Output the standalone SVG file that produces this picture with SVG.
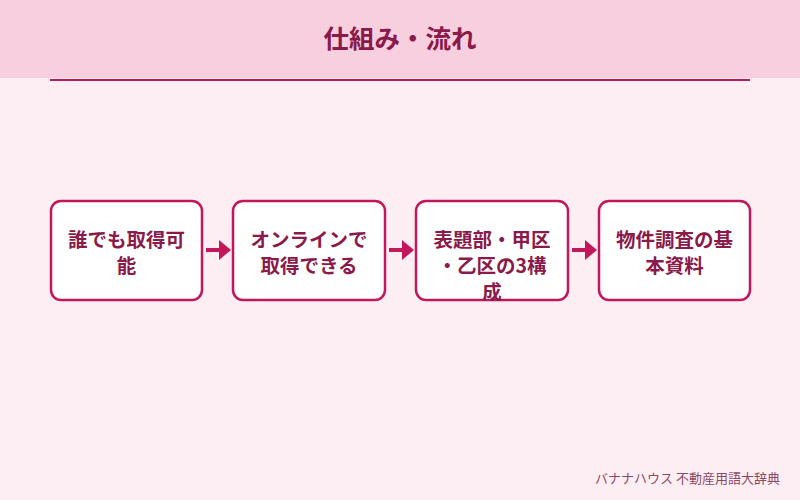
<svg xmlns="http://www.w3.org/2000/svg" width="800" height="500" viewBox="0 0 800 500">
<style>
.t{font-family:"Noto Sans CJK JP","Noto Sans",sans-serif;font-weight:bold;fill:#8a1a4a;text-anchor:middle}
.n{fill:#fff;stroke:#c2185b;stroke-width:2.5}
.c{stroke:#c2185b;stroke-width:4;fill:none}
.h{fill:#c2185b}
</style>
<rect width="800" height="500" fill="#fdeef3"/>
<rect width="800" height="78" fill="#f7cfdf"/>
<line x1="50" y1="80" x2="750" y2="80" stroke="#c2185b" stroke-width="2"/>
<text x="400" y="48" class="t" font-size="25.5">仕組み・流れ</text>
<g id="n1"><rect x="51" y="201" width="151" height="99" rx="10" class="n"/><text class="t" font-size="19.5"><tspan x="126.5" y="247">誰でも取得可</tspan><tspan x="126.5" y="273">能</tspan></text></g>
<g id="n2"><rect x="233" y="201" width="152" height="99" rx="10" class="n"/><text class="t" font-size="19.5"><tspan x="309" y="247">オンラインで</tspan><tspan x="309" y="273">取得できる</tspan></text></g>
<g id="n3"><rect x="416" y="201" width="152" height="99" rx="10" class="n"/><text class="t" font-size="19.5"><tspan x="492" y="247">表題部・甲区</tspan><tspan x="492" y="273">・乙区の3構</tspan><tspan x="492" y="299">成</tspan></text></g>
<g id="n4"><rect x="599" y="201" width="151" height="99" rx="10" class="n"/><text class="t" font-size="19.5"><tspan x="674.5" y="247">物件調査の基</tspan><tspan x="674.5" y="273">本資料</tspan></text></g>
<g id="connectors">
<line x1="206" y1="250" x2="220" y2="250" class="c"/><polygon points="219,240 231,250 219,260" class="h"/>
<line x1="389" y1="250" x2="403" y2="250" class="c"/><polygon points="402,240 414,250 402,260" class="h"/>
<line x1="572" y1="250" x2="586" y2="250" class="c"/><polygon points="585,240 597,250 585,260" class="h"/>
</g>
<text x="780" y="483" font-family="Noto Sans CJK JP,sans-serif" font-size="13" fill="#8a4a66" text-anchor="end">バナナハウス 不動産用語大辞典</text>
</svg>
